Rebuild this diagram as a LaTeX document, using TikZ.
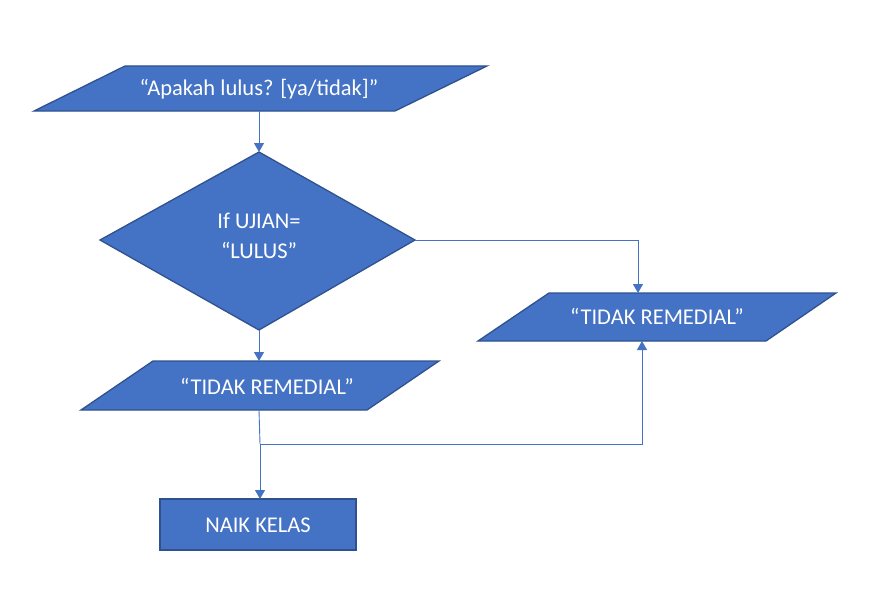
\documentclass[tikz,border=0pt]{standalone}
\usepackage{fontspec}
\setmainfont{Carlito}
\usetikzlibrary{arrows.meta}
\definecolor{fillblue}{HTML}{4472C4}
\definecolor{edgeblue}{HTML}{2F528F}
\definecolor{lineblue}{HTML}{4472C4}
\begin{document}
\begin{tikzpicture}[x=1pt,y=-1pt,
  shapebox/.style={fill=fillblue,draw=edgeblue,line width=1.3pt,line join=miter},
  label/.style={text=white,font=\fontsize{22.5}{30}\selectfont,align=center,inner sep=0pt},
  conn/.style={draw=lineblue,line width=0.9pt,-{Triangle[width=10pt,length=9pt]}},
  plain/.style={draw=lineblue,line width=0.9pt}]
\useasboundingbox (0,0) rectangle (870,602);
% shapes
\draw[shapebox] (125,66) -- (487,66) -- (395,111) -- (34,111) -- cycle;
\draw[shapebox] (259,152) -- (415,240) -- (259,330) -- (100,240) -- cycle;
\draw[shapebox] (549,293) -- (836,293) -- (766,341) -- (478,341) -- cycle;
\draw[shapebox] (153,361) -- (439,361) -- (367,410) -- (81,410) -- cycle;
\draw[shapebox] (160,499) rectangle (356,550);
% labels
\node[label] (input) at (259,89) {“Apakah lulus? [ya/tidak]”};
\node[label] (cond) at (259,236) {If UJIAN=\\“LULUS”};
\node[label] (right) at (657,316) {“TIDAK REMEDIAL”};
\node[label] (mid) at (267,386) {“TIDAK REMEDIAL”};
\node[label] (naik) at (258,525) {NAIK KELAS};
% anchor coordinates
\coordinate (inB) at (259,111);
\coordinate (dT) at (259,152);
\coordinate (dR) at (415,240);
\coordinate (dB) at (259,330);
\coordinate (rT) at (638,293);
\coordinate (rB) at (642,341);
\coordinate (mT) at (259,361);
\coordinate (mB) at (259,410);
\coordinate (split) at (260,444);
\coordinate (nT) at (260,499);
% connectors
\draw[conn] (inB) -- (dT);
\draw[conn] (dR) -- (rT |- dR) -- (rT);
\draw[conn] (dB) -- (mT);
\draw[plain] (mB) -- (split);
\draw[conn] (split) -- (nT);
\draw[conn] (split) -- (rB |- split) -- (rB);
\end{tikzpicture}
\end{document}
